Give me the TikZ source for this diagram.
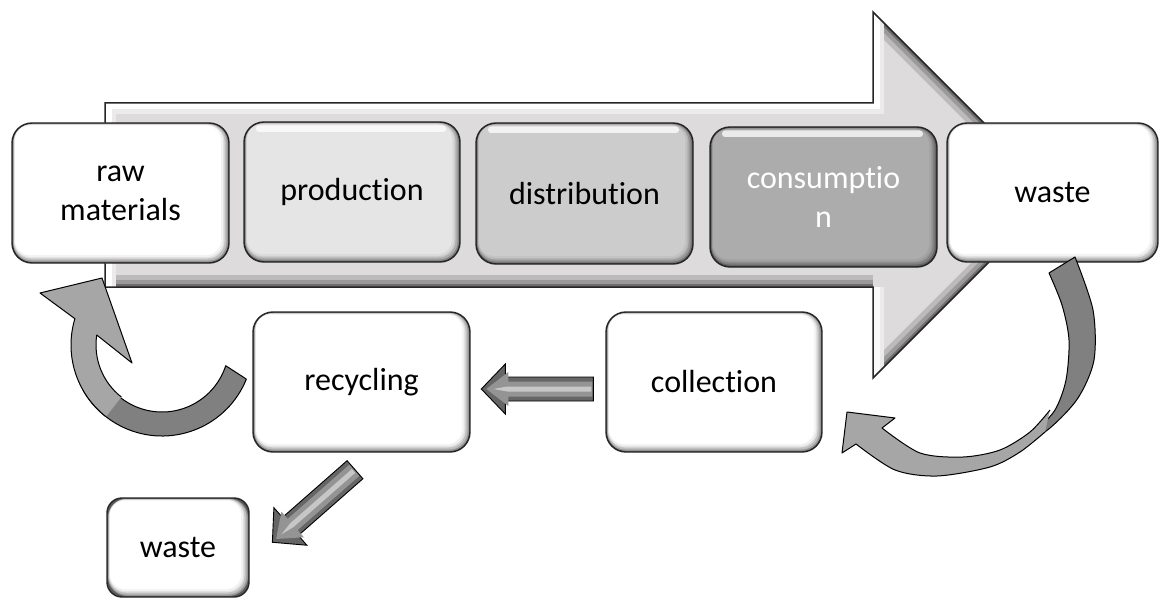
\documentclass[tikz,border=0pt]{standalone}
\usepackage{fontspec}
\setmainfont{Carlito}[Ligatures={NoCommon}]
\usetikzlibrary{calc}
\definecolor{arrowfill}{RGB}{221,219,219}
\definecolor{cProd}{RGB}{229,229,229}
\definecolor{cDist}{RGB}{204,204,204}
\definecolor{cCons}{RGB}{172,172,172}
\definecolor{cDark}{RGB}{128,128,128}
\definecolor{cLight}{RGB}{166,166,166}
\newcommand\boxfont{\fontsize{32}{39}\selectfont}
\newcommand\blockarr[3]{%
  \begin{scope}[shift={#1}, rotate=#2]
    \filldraw[fill=black!60, draw=black, line width=0.9pt] (0,-12) -- (#3-24,-12) -- (#3-24,-25) -- (#3,0) -- (#3-24,25) -- (#3-24,12) -- (0,12) -- cycle;
    \fill[black!42] (1,-7.5) -- (#3-27,-7.5) -- (#3-27,-17) -- (#3-5,0) -- (#3-27,17) -- (#3-27,7.5) -- (1,7.5) -- cycle;
    \fill[black!22] (2,-2.5) -- (#3-26,-2.5) -- (#3-12,0) -- (#3-26,2.5) -- (2,2.5) -- cycle;
  \end{scope}}
\tikzset{
  bbox/.style={draw=black!85, line width=1.4pt, rounded corners=20pt, fill=#1,
    align=center, font=\boxfont, inner sep=0pt,
    minimum width=217pt, minimum height=140pt,
    path picture={
      \path (path picture bounding box.south west) coordinate (ppsw)
            (path picture bounding box.north east) coordinate (ppne);
      \fill[#1!35!black] (ppsw) rectangle (ppne);
      \fill[#1!58!black, rounded corners=19pt] ($(ppsw)+(1,1)$) rectangle ($(ppne)+(-1,-0.5)$);
      \fill[#1!75!black, rounded corners=18pt] ($(ppsw)+(1.5,2.5)$) rectangle ($(ppne)+(-2.5,-1)$);
      \fill[#1!88!black, rounded corners=17pt] ($(ppsw)+(2,4.5)$) rectangle ($(ppne)+(-4.5,-1.5)$);
      \fill[#1!95!black, rounded corners=16pt] ($(ppsw)+(2.5,6)$) rectangle ($(ppne)+(-6,-2)$);
      \fill[#1, rounded corners=15pt] ($(ppsw)+(3,8)$) rectangle ($(ppne)+(-8,-2.5)$);
      \fill[white, opacity=.75, rounded corners=3pt] ($(path picture bounding box.north west)+(12,-10)$) rectangle ($(ppne)+(-14,-3.5)$);
    }},
  curvearr/.style={draw=black, line width=1pt, line join=round},
  bigarrowline/.style={draw=black!85, line width=1.5pt, line join=miter}
}
\begin{document}
\begin{tikzpicture}[x=1pt,y=1pt]
\useasboundingbox (0,0) rectangle (1160,-599);
\fill[white] (0,0) rectangle (1160,-599);

% big background arrow
\begin{scope}
  \clip (105,-103) -- (873,-103) -- (873,-12) -- (1056,-195) -- (873,-378) -- (873,-287) -- (105,-287) -- cycle;
  \fill[arrowfill] (0,0) rectangle (1160,-599);
  \draw[line width=24pt, arrowfill!85!black] (873,-12) -- (1056,-195) -- (873,-378);
  \draw[line width=24pt, arrowfill!85!black] (873,-287) -- (105,-287);
  \draw[line width=14pt, arrowfill!70!black] (873,-12) -- (1056,-195) -- (873,-378);
  \draw[line width=14pt, arrowfill!70!black] (873,-287) -- (105,-287);
  \draw[line width=6pt, arrowfill!50!black] (873,-12) -- (1056,-195) -- (873,-378);
  \draw[line width=6pt, arrowfill!50!black] (873,-287) -- (105,-287);
  \draw[line width=22pt, arrowfill!55!white] (105,-287) -- (105,-103) -- (873,-103) -- (873,-12);
  \draw[line width=22pt, arrowfill!55!white] (873,-287) -- (873,-378);
  \draw[line width=13pt, white] (105,-287) -- (105,-103) -- (873,-103) -- (873,-12);
  \draw[line width=13pt, white!85!arrowfill] (873,-287) -- (873,-378);
\end{scope}
\draw[bigarrowline] (105,-103) -- (873,-103) -- (873,-12) -- (1056,-195) -- (873,-378) -- (873,-287) -- (105,-287) -- cycle;

% boxes of the main row
\node[bbox=white] (raw) at (120.5,-193) {raw\\materials};
\node[bbox=cProd, minimum width=216pt] (prod) at (352,-192) {production};
\node[bbox=cDist, minimum height=141pt] (dist) at (584.5,-193.5) {distribution};
\node[bbox=cCons, minimum width=227pt, text=white] (cons) at (823.5,-197) {consumptio\\n};
\node[bbox=white, minimum width=211pt, minimum height=139pt] (waste) at (1052.5,-192.5) {waste};

% boxes of the loop
\node[bbox=white] (recyc) at (361.5,-382) {recycling};
\node[bbox=white, minimum width=216pt] (collect) at (714,-382) {collection};
\node[bbox=white, minimum width=142pt, minimum height=99pt, rounded corners=15pt] (waste2) at (178,-547.5) {waste};

% curved arrow: recycling -> raw materials
\coordinate (lc) at (162,-345);
\filldraw[curvearr, fill=cDark] ($(lc)+(-22:91)$) arc[start angle=-22, end angle=-150, radius=91]
   -- ($(lc)+(-150:67)$) arc[start angle=-150, end angle=-18, radius=67] -- cycle;
\fill[cLight] ($(lc)+(-128:91)$) arc[start angle=-128, end angle=-196.8, radius=91]
   -- (40,-293) -- (102,-278) -- (132,-363) -- ($(lc)+(-188.7:66)$)
   arc[start angle=-188.7, end angle=-128, radius=66] -- cycle;
\draw[curvearr] ($(lc)+(-128:91)$) arc[start angle=-128, end angle=-196.8, radius=91]
   -- (40,-293) -- (102,-278) -- (132,-363) -- ($(lc)+(-188.7:66)$)
   arc[start angle=-188.7, end angle=-128, radius=66];

% curved arrow: waste -> collection
\filldraw[curvearr, fill=cDark] plot[smooth] coordinates {(1075,-257) (1093,-310) (1094,-360) (1078,-398) (1050,-428) (1015,-452)}
   -- plot[smooth] coordinates {(1035,-432) (1055,-410) (1066,-380) (1069,-340) (1062,-305) (1049,-273)} -- cycle;
\fill[cLight] plot[smooth] coordinates {(1045,-432) (1020,-452) (990,-467) (937,-476) (895,-470) (856,-444)}
   -- (842,-453) -- (847,-412) -- (895,-418) -- (882,-428)
   -- plot[smooth] coordinates {(882,-428) (920,-453) (963,-457) (1000,-450) (1030,-432) (1050,-410)} -- cycle;
\draw[curvearr] plot[smooth] coordinates {(1045,-432) (1020,-452) (990,-467) (937,-476) (895,-470) (856,-444)}
   -- (842,-453) -- (847,-412) -- (895,-418) -- (882,-428)
   -- plot[smooth] coordinates {(882,-428) (920,-453) (963,-457) (1000,-450) (1030,-432) (1050,-410)};

% straight block arrows
\blockarr{($(collect.west)+(-12,-7)$)}{180}{112}
\blockarr{($(recyc.south)+(-6.5,-17)$)}{221.3}{110}
\end{tikzpicture}
\end{document}
